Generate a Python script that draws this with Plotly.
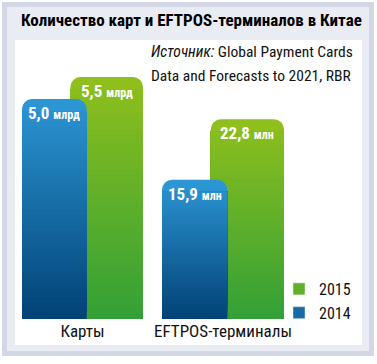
import plotly.graph_objects as go

# ---------------- data ----------------
categories = ["Карты", "EFTPOS-терминалы"]
years = ["2014", "2015"]
values_2014 = [5.0, 15.9]
values_2015 = [5.5, 22.8]
units = ["млрд", "млн"]
title_text = "Количество карт и EFTPOS-терминалов в Китае"
source_line1 = "<i>Источник:</i> Global Payment Cards"
source_line2 = "Data and Forecasts to 2021, RBR"

# ---------------- styling ----------------
W, H = 377, 364
FONT = "Roboto Condensed, Liberation Sans Narrow, DejaVu Sans Condensed, Roboto, sans-serif"
BLUE_TOP, BLUE_BOT = (44, 150, 212), (2, 66, 118)
GREEN_TOP, GREEN_BOT = (143, 191, 28), (50, 160, 55)
FRAME_DARK = "#d3d6e4"
FRAME_LIGHT = "#eaecf3"


def px(x):
    return x / W


def py(y):
    return 1 - y / H


def rgb(c):
    return "rgb(%d,%d,%d)" % c


def mix(a, b, t):
    return tuple(round(a[i] + (b[i] - a[i]) * t) for i in range(3))


Y_BOTTOM, Y_TOP = 319, 40
DOMAIN_PX = Y_BOTTOM - Y_TOP
y_ranges = [6.34, 31.85]
x_domains = [(22, 143), (162, 284)]
bar_geom = {"2014": (-0.5, 0.535), "2015": (-0.1, 0.6)}
RADIUS = 10
N_SEG = 40

fig = go.Figure()

# legend proxies
fig.add_trace(go.Bar(x=[categories[0]], y=[None], name="2015",
                     marker=dict(color=rgb(mix(GREEN_BOT, GREEN_TOP, 0.5))),
                     xaxis="x", yaxis="y", hoverinfo="skip"))
fig.add_trace(go.Bar(x=[categories[0]], y=[None], name="2014",
                     marker=dict(color=rgb(mix(BLUE_BOT, BLUE_TOP, 0.5))),
                     xaxis="x", yaxis="y", hoverinfo="skip"))


def add_gradient_bar(cat, v, ax_idx, year, top, bot):
    xa = "x" if ax_idx == 0 else "x2"
    ya = "y" if ax_idx == 0 else "y2"
    off, wid = bar_geom[year]
    scale = DOMAIN_PX / y_ranges[ax_idx]
    # full rounded bar (top colour)
    fig.add_trace(go.Bar(x=[cat], y=[v], base=[0], offset=off, width=wid,
                         marker=dict(color=rgb(top), cornerradius=RADIUS, line=dict(width=0)),
                         xaxis=xa, yaxis=ya, showlegend=False, hoverinfo="skip"))
    # gradient segments below the rounded cap
    cut = v - (RADIUS + 2) / scale
    bases = [cut * i / N_SEG for i in range(N_SEG)]
    heights = [cut - b for b in bases]
    colors = [rgb(mix(bot, top, (b + cut / N_SEG / 2) / v)) for b in bases]
    fig.add_trace(go.Bar(x=[cat] * N_SEG, y=heights, base=bases,
                         offset=off, width=wid,
                         marker=dict(color=colors, line=dict(width=0)),
                         xaxis=xa, yaxis=ya, showlegend=False, hoverinfo="skip"))
    # value label
    lbl = ("%.1f" % v).replace(".", ",")
    fig.add_annotation(x=off + wid / 2, y=v, xref=xa, yref=ya,
                       text="<b>%s <span style='font-size:12px'>%s</span></b>" % (lbl, units[ax_idx]),
                       showarrow=False, yanchor="top", yshift=-2,
                       font=dict(family=FONT, size=17, color="white"))


for i, cat in enumerate(categories):
    add_gradient_bar(cat, values_2015[i], i, "2015", GREEN_TOP, GREEN_BOT)
    add_gradient_bar(cat, values_2014[i], i, "2014", BLUE_TOP, BLUE_BOT)

axis_common = dict(type="category", range=[-0.5, 0.5], showgrid=False, zeroline=False,
                   showline=False, ticks="", tickfont=dict(family=FONT, size=17, color="#111"),
                   fixedrange=True, automargin=False)
yaxis_common = dict(showgrid=False, zeroline=False, showline=False, showticklabels=False,
                    ticks="", fixedrange=True, automargin=False)

fig.update_layout(
    width=W, height=H,
    margin=dict(l=0, r=0, t=0, b=0, pad=0),
    paper_bgcolor="white",
    plot_bgcolor="rgba(0,0,0,0)",
    barmode="overlay",
    xaxis=dict(domain=[px(x_domains[0][0]), px(x_domains[0][1])], anchor="y", **axis_common),
    xaxis2=dict(domain=[px(x_domains[1][0]), px(x_domains[1][1])], anchor="y2", **axis_common),
    yaxis=dict(domain=[py(Y_BOTTOM), py(Y_TOP)], range=[0, y_ranges[0]], anchor="x", **yaxis_common),
    yaxis2=dict(domain=[py(Y_BOTTOM), py(Y_TOP)], range=[0, y_ranges[1]], anchor="x2", **yaxis_common),
    showlegend=True,
    legend=dict(x=px(356), y=py(272), xanchor="right", yanchor="top",
                font=dict(family=FONT, size=16, color="#111"),
                bgcolor="rgba(0,0,0,0)", tracegroupgap=0, itemclick=False,
                itemdoubleclick=False),
    shapes=[
        dict(type="rect", xref="paper", yref="paper", x0=px(2), x1=px(374), y0=py(356), y1=py(2),
             fillcolor=FRAME_DARK, line=dict(width=0), layer="below"),
        dict(type="rect", xref="paper", yref="paper", x0=px(7), x1=px(369), y0=py(351), y1=py(7),
             fillcolor=FRAME_LIGHT, line=dict(width=0), layer="below"),
        dict(type="rect", xref="paper", yref="paper", x0=px(15), x1=px(362), y0=py(345), y1=py(40),
             fillcolor="white", line=dict(width=0), layer="below"),
    ],
)

fig.add_annotation(x=px(19), y=py(20), xref="paper", yref="paper", xanchor="left", yanchor="middle",
                   text="<b>%s</b>" % title_text, showarrow=False,
                   font=dict(family=FONT, size=17, color="#000"))
fig.add_annotation(x=px(149), y=py(52), xref="paper", yref="paper", xanchor="left", yanchor="middle",
                   text=source_line1, showarrow=False,
                   font=dict(family=FONT, size=15.5, color="#111"))
fig.add_annotation(x=px(149), y=py(76), xref="paper", yref="paper", xanchor="left", yanchor="middle",
                   text=source_line2, showarrow=False,
                   font=dict(family=FONT, size=15.5, color="#111"))

fig.write_html("out.html", config={"displayModeBar": False, "staticPlot": False},
               post_script="document.body.style.margin='0px';")
